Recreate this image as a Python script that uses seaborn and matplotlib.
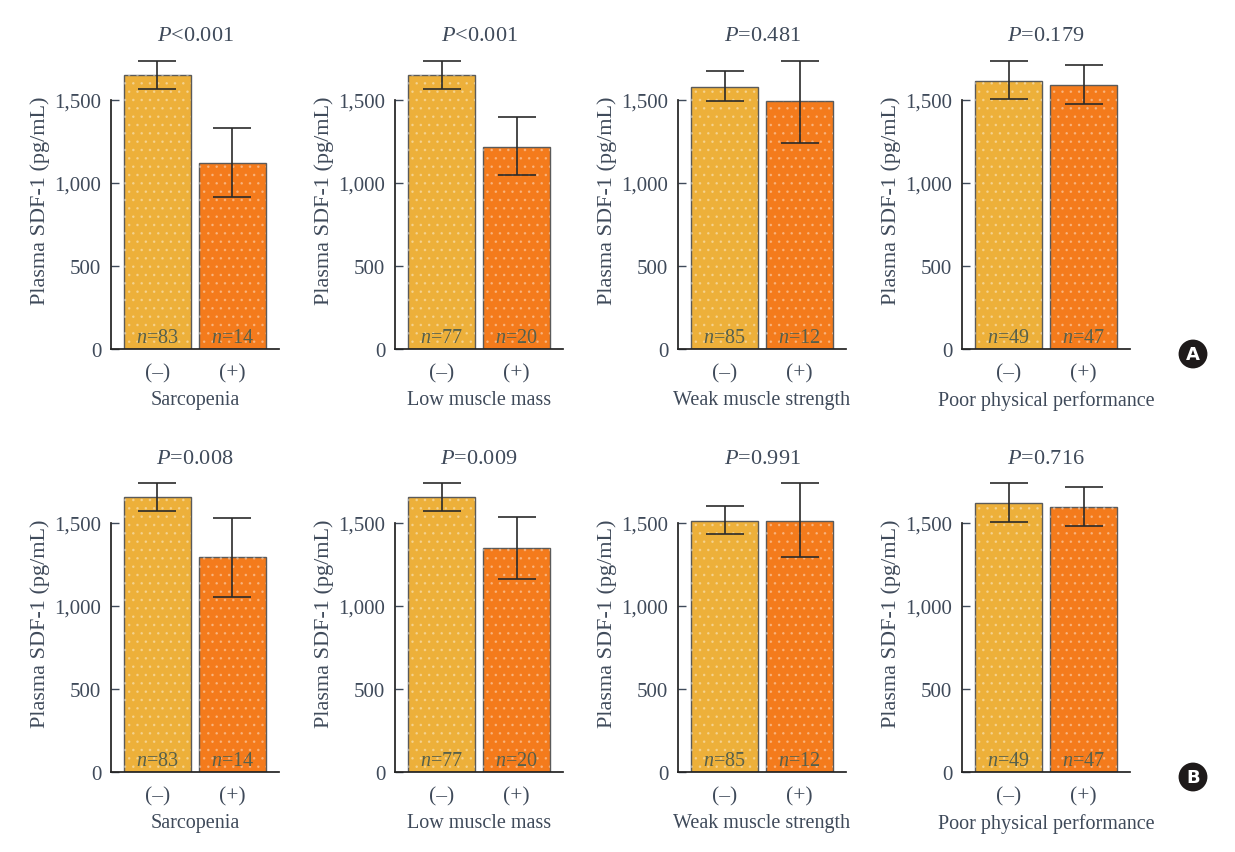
import numpy as np
import pandas as pd
import matplotlib
matplotlib.use("Agg")
import matplotlib.pyplot as plt
import seaborn as sns

# values
conditions = ["Sarcopenia", "Low muscle mass", "Weak muscle strength", "Poor physical performance"]
groups = ["(\u2013)", "(+)"]
n_neg = [83, 77, 85, 49]
n_pos = [14, 20, 12, 47]

# panel A
p_a = ["<0.001", "<0.001", "=0.481", "=0.179"]
mean_a_neg = [1650, 1650, 1578, 1614]
mean_a_pos = [1120, 1217, 1494, 1590]
hi_a_neg = [1735, 1735, 1675, 1735]
lo_a_neg = [1566, 1566, 1494, 1506]
hi_a_pos = [1331, 1398, 1735, 1711]
lo_a_pos = [916, 1048, 1241, 1476]

# panel B
p_b = ["=0.008", "=0.009", "=0.991", "=0.716"]
mean_b_neg = [1657, 1657, 1512, 1621]
mean_b_pos = [1294, 1349, 1512, 1597]
hi_b_neg = [1742, 1742, 1603, 1742]
lo_b_neg = [1573, 1573, 1433, 1506]
hi_b_pos = [1530, 1536, 1742, 1718]
lo_b_pos = [1052, 1161, 1294, 1482]

bar_colors = ["#EDB03A", "#F47B1C"]
text_color = "#3f4a5a"
n_color = "#56604c"

sns.set_theme(style="ticks")
plt.rcParams["font.family"] = ["Liberation Serif", "DejaVu Serif"]
plt.rcParams["mathtext.fontset"] = "custom"
plt.rcParams["mathtext.rm"] = "Liberation Serif"
plt.rcParams["mathtext.it"] = "Liberation Serif:italic"
plt.rcParams["text.color"] = text_color
plt.rcParams["axes.labelcolor"] = text_color
plt.rcParams["xtick.color"] = text_color
plt.rcParams["ytick.color"] = text_color
plt.rcParams["hatch.linewidth"] = 0.7

fig = plt.figure(figsize=(12.35, 8.53), dpi=100)

rows = [
    (p_a, mean_a_neg, mean_a_pos, hi_a_neg, lo_a_neg, hi_a_pos, lo_a_pos, 350, "A"),
    (p_b, mean_b_neg, mean_b_pos, hi_b_neg, lo_b_neg, hi_b_pos, lo_b_pos, 773, "B"),
]
lefts = [111, 395, 678, 962]
W, H = 1235, 853
ax_w, ax_h = 168, 299

for p_vals, m_neg, m_pos, h_neg, l_neg, h_pos, l_pos, base_px, tag in rows:
    for i, cond in enumerate(conditions):
        ax = fig.add_axes([lefts[i] / W, 1 - base_px / H, ax_w / W, ax_h / H])
        df = pd.DataFrame({"group": groups, "value": [m_neg[i], m_pos[i]]})
        sns.barplot(data=df, x="group", y="value", hue="group", palette=bar_colors,
                    saturation=1, width=0.89, edgecolor="#5a5a5a", linewidth=1.0,
                    legend=False, ax=ax)
        # faint dotted texture
        ax.bar([0, 1], df["value"], width=0.89, fill=False, hatch="..",
               edgecolor=(1, 1, 1, 0.3), linewidth=0)
        means = np.array([m_neg[i], m_pos[i]])
        upper = np.array([h_neg[i], h_pos[i]])
        lower = np.array([l_neg[i], l_pos[i]])
        ax.errorbar([0, 1], means, yerr=[means - lower, upper - means], fmt="none",
                    ecolor="#2a2a2a", elinewidth=1.2, capsize=14, capthick=1.2, zorder=5)
        for x, n in zip([0, 1], [n_neg[i], n_pos[i]]):
            ax.text(x, 10, f"$n$={n}", ha="center", va="bottom",
                    fontsize=14.5, color=n_color)
        ax.set_xlim(-0.62, 1.62)
        ax.set_ylim(0, 1800)
        ax.set_yticks([0, 500, 1000, 1500])
        ax.set_yticklabels(["0", "500", "1,000", "1,500"])
        ax.spines["left"].set_bounds(0, 1500)
        ax.spines[["top", "right"]].set_visible(False)
        ax.spines["left"].set_color("#222222")
        ax.spines["bottom"].set_color("#222222")
        ax.tick_params(axis="y", direction="in", length=6, width=1, labelsize=15, pad=7)
        ax.tick_params(axis="x", length=0, labelsize=15.5, pad=10)
        ax.set_ylabel("Plasma SDF-1 (pg/mL)", fontsize=16)
        ax.yaxis.set_label_coords(-0.365, 0.5)
        ax.set_xlabel(cond, fontsize=14.5, labelpad=6)
        ax.set_title(f"$P${p_vals[i]}", fontsize=16, pad=7, color=text_color)
    fig.text(1193 / W, 1 - (base_px + 5) / H, tag, ha="center", va="center",
             fontsize=13, fontweight="bold", color="white", family="DejaVu Sans",
             bbox=dict(boxstyle="circle,pad=0.3", fc="#1e1a1a", ec="none"))

fig.savefig("out.png", dpi=100, facecolor="white")
